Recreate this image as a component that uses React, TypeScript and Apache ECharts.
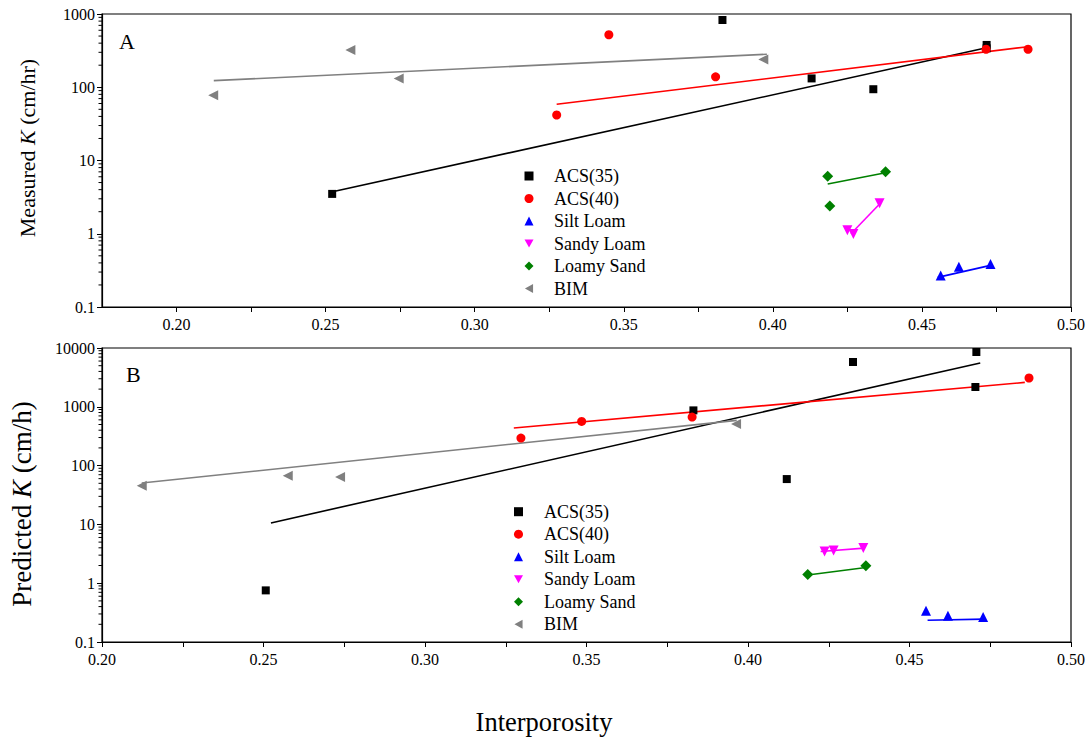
import React, { useEffect, useRef } from 'react';
import * as echarts from 'echarts';

const seriesNames = ['ACS(35)', 'ACS(40)', 'Silt Loam', 'Sandy Loam', 'Loamy Sand', 'BIM'];
const xTickLabels = ['0.20', '0.25', '0.30', '0.35', '0.40', '0.45', '0.50'];
const decadesA = [0.1, 1, 10, 100];
const decadesB = [0.1, 1, 10, 100, 1000];
const minorMultipliers = [2, 3, 4, 5, 6, 7, 8, 9];

// Panel A: measured K (cm/hr) vs interporosity
const measuredACS35 = [[0.2522, 3.5], [0.3831, 828], [0.413, 132], [0.4337, 94], [0.4717, 378], [0.4717, 340]];
const measuredACS40 = [[0.3275, 41.8], [0.345, 521], [0.3808, 139], [0.4715, 330], [0.4856, 330]];
const measuredSiltLoam = [[0.4563, 0.27], [0.4624, 0.355], [0.473, 0.386]];
const measuredSandyLoam = [[0.425, 1.12], [0.427, 0.99], [0.4358, 2.6]];
const measuredLoamySand = [[0.4184, 6.1], [0.4378, 7.0], [0.4191, 2.4]];
const measuredBIM = [[0.2123, 78], [0.2583, 322], [0.2745, 132], [0.3968, 240]];

const measuredFitACS35 = [[0.2523, 3.75], [0.4709, 340]];
const measuredFitACS40 = [[0.3275, 58.5], [0.4856, 358]];
const measuredFitSiltLoam = [[0.4553, 0.254], [0.473, 0.37]];
const measuredFitSandyLoam = [[0.4262, 1.0], [0.4358, 2.55]];
const measuredFitLoamySand = [[0.4184, 4.77], [0.4378, 6.8]];
const measuredFitBIM = [[0.2125, 123], [0.398, 282]];

// Panel B: predicted K (cm/h) vs interporosity
const predictedACS35 = [[0.2507, 0.755], [0.3831, 869], [0.412, 59], [0.4325, 5780], [0.4707, 8550], [0.4704, 2170]];
const predictedACS40 = [[0.3297, 294], [0.3485, 565], [0.3827, 670], [0.487, 3090]];
const predictedSiltLoam = [[0.4551, 0.34], [0.4619, 0.28], [0.4728, 0.266]];
const predictedSandyLoam = [[0.4237, 3.47], [0.4265, 3.6], [0.4357, 3.97]];
const predictedLoamySand = [[0.4185, 1.4], [0.4365, 1.99]];
const predictedBIM = [[0.2123, 45.5], [0.2575, 67], [0.2737, 64], [0.3963, 509]];

const predictedFitACS35 = [[0.2523, 10.6], [0.4719, 5560]];
const predictedFitACS40 = [[0.3275, 436], [0.4857, 2600]];
const predictedFitSiltLoam = [[0.4556, 0.235], [0.4731, 0.245]];
const predictedFitSandyLoam = [[0.4225, 3.45], [0.436, 3.95]];
const predictedFitLoamySand = [[0.4185, 1.38], [0.4365, 1.85]];
const predictedFitBIM = [[0.2123, 50.6], [0.3965, 587]];

const measuredPoints = [measuredACS35, measuredACS40, measuredSiltLoam, measuredSandyLoam, measuredLoamySand, measuredBIM];
const measuredFits = [measuredFitACS35, measuredFitACS40, measuredFitSiltLoam, measuredFitSandyLoam, measuredFitLoamySand, measuredFitBIM];
const predictedPoints = [predictedACS35, predictedACS40, predictedSiltLoam, predictedSandyLoam, predictedLoamySand, predictedBIM];
const predictedFits = [predictedFitACS35, predictedFitACS40, predictedFitSiltLoam, predictedFitSandyLoam, predictedFitLoamySand, predictedFitBIM];

const styles = [
  { symbol: 'rect', size: 8, rotate: 0, color: '#000000', icon: 'rect' },
  { symbol: 'circle', size: 9, rotate: 0, color: '#ff0000', icon: 'circle' },
  { symbol: 'triangle', size: 10, rotate: 0, color: '#0000ff', icon: 'triangle' },
  { symbol: 'triangle', size: 10, rotate: 180, color: '#ff00ff', icon: 'path://M0,0L10,0L5,9Z' },
  { symbol: 'diamond', size: 11, rotate: 0, color: '#008000', icon: 'diamond' },
  { symbol: 'triangle', size: 10, rotate: 90, color: '#808080', icon: 'path://M9,0L9,10L0,5Z' },
];

const FONT = 'Liberation Serif';

function xAxisFor(gridIndex: number, min: number) {
  return {
    type: 'value',
    gridIndex,
    min,
    max: 0.5,
    interval: 0.025,
    axisLine: { show: true, lineStyle: { color: '#000', width: 1.2 } },
    axisTick: { show: true, length: 5, lineStyle: { color: '#000', width: 1 } },
    splitLine: { show: false },
    axisLabel: {
      showMinLabel: gridIndex === 1,
      color: '#000',
      fontFamily: FONT,
      fontSize: 16,
      margin: 9,
      formatter: (v: number) => {
        const s = v.toFixed(2);
        return Math.abs(v * 20 - Math.round(v * 20)) < 1e-6 && xTickLabels.includes(s) ? s : '';
      },
    },
  };
}

function yAxisFor(gridIndex: number, max: number) {
  return {
    type: 'log',
    logBase: 10,
    gridIndex,
    min: 0.1,
    max,
    axisLine: { show: true, lineStyle: { color: '#000', width: 1.2 } },
    axisTick: { show: true, length: 5, lineStyle: { color: '#000', width: 1 } },
    minorTick: { show: false },
    splitLine: { show: false },
    axisLabel: {
      color: '#000',
      fontFamily: FONT,
      fontSize: 16,
      margin: 7,
      formatter: (v: number) => (v >= 1 ? String(Math.round(v)) : String(+v.toPrecision(2))),
    },
  };
}

// log-axis minor ticks (2..9 within each decade), placed on the y axis line
function minorTickSeries(idx: number, xmin: number, decades: number[]) {
  const vals: number[][] = [];
  decades.forEach((d) => minorMultipliers.forEach((m) => vals.push([xmin, +(d * m).toPrecision(3)])));
  return {
    name: 'minor ticks ' + idx,
    type: 'scatter',
    xAxisIndex: idx,
    yAxisIndex: idx,
    silent: true,
    clip: false,
    data: vals,
    symbol: 'rect',
    symbolSize: [3.5, 1],
    symbolOffset: [-1.75, 0],
    itemStyle: { color: '#000', opacity: 1 },
    z: 5,
  };
}

function panelSeries(points: number[][][], fits: number[][][], idx: number, tag: string) {
  const out: any[] = [];
  fits.forEach((d, i) => {
    out.push({
      name: seriesNames[i] + ' fit ' + tag,
      type: 'line',
      xAxisIndex: idx,
      yAxisIndex: idx,
      data: d,
      showSymbol: false,
      symbol: 'none',
      lineStyle: { color: styles[i].color, width: 1.6 },
      itemStyle: { color: styles[i].color },
      z: 2,
      silent: true,
    });
  });
  points.forEach((d, i) => {
    out.push({
      name: seriesNames[i],
      type: 'scatter',
      xAxisIndex: idx,
      yAxisIndex: idx,
      data: d,
      symbol: styles[i].symbol,
      symbolSize: styles[i].size,
      symbolRotate: styles[i].rotate,
      itemStyle: { color: styles[i].color, opacity: 1 },
      z: 3,
    });
  });
  return out;
}

function legendFor(left: number, top: number, gap: number) {
  return {
    data: seriesNames.map((n, i) => ({ name: n, icon: styles[i].icon })),
    orient: 'vertical',
    left,
    top,
    padding: 0,
    itemWidth: 9,
    itemHeight: 9,
    itemGap: 4.5,
    selectedMode: false,
    formatter: (name: string) => '{sp|}' + name,
    textStyle: {
      fontFamily: FONT, fontSize: 18, color: '#000', lineHeight: 18,
      rich: { sp: { width: gap, fontSize: 18, lineHeight: 18 } },
    },
  };
}

export default function App() {
  const ref = useRef<HTMLDivElement>(null);
  useEffect(() => {
    if (!ref.current) return;
    const chart = echarts.init(ref.current, undefined, { renderer: 'svg' });
    chart.setOption({
      animation: false,
      backgroundColor: '#ffffff',
      textStyle: { fontFamily: FONT },
      grid: [
        { left: 102, right: 21, top: 14, height: 293, show: true, borderColor: '#000', borderWidth: 1.2 },
        { left: 102, right: 21, top: 348, height: 294, show: true, borderColor: '#000', borderWidth: 1.2 },
      ],
      xAxis: [xAxisFor(0, 0.175), xAxisFor(1, 0.2)],
      yAxis: [yAxisFor(0, 1000), yAxisFor(1, 10000)],
      legend: [legendFor(524.5, 167, 15.5), legendFor(514, 502.7, 16)],
      series: [
        minorTickSeries(0, 0.175, decadesA),
        minorTickSeries(1, 0.2, decadesB),
        ...panelSeries(measuredPoints, measuredFits, 0, 'A'),
        ...panelSeries(predictedPoints, predictedFits, 1, 'B'),
      ],
      graphic: [
        { type: 'text', left: 119, top: 30, style: { text: 'A', font: '22px ' + FONT, fill: '#000' } },
        { type: 'text', left: 126, top: 363, style: { text: 'B', font: '22px ' + FONT, fill: '#000' } },
        {
          type: 'text', x: 27, y: 148, rotation: Math.PI / 2,
          style: {
            text: 'Measured {i|K} (cm/hr)', font: '22px ' + FONT, fill: '#000',
            align: 'center', verticalAlign: 'middle',
            rich: { i: { fontStyle: 'italic', fontSize: 22, fontFamily: FONT } },
          },
        },
        {
          type: 'text', x: 22, y: 504, rotation: Math.PI / 2,
          style: {
            text: 'Predicted {i|K} (cm/h)', font: '27px ' + FONT, fill: '#000',
            align: 'center', verticalAlign: 'middle',
            rich: { i: { fontStyle: 'italic', fontSize: 27, fontFamily: FONT } },
          },
        },
        {
          type: 'text', x: 544, y: 722,
          style: { text: 'Interporosity', font: '26.5px ' + FONT, fill: '#000', align: 'center', verticalAlign: 'middle' },
        },
      ],
    });
    return () => chart.dispose();
  }, []);
  return (
    <div
      ref={ref}
      style={{ position: 'fixed', left: 0, top: 0, width: 1092, height: 740, background: '#fff' }}
    />
  );
}
